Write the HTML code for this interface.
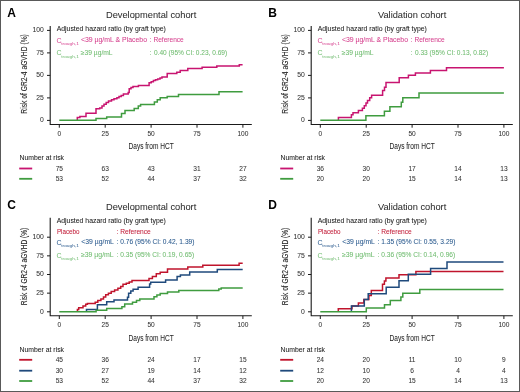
<!DOCTYPE html><html><head><meta charset="utf-8"><style>html,body{margin:0;padding:0;background:#fff}svg{display:block;will-change:transform}</style></head><body>
<svg width="520" height="392" viewBox="0 0 520 392" font-family='"Liberation Sans", sans-serif'>
<rect x="0" y="0" width="520" height="392" fill="#fff"/>
<text x="7.2" y="16.8" font-size="12" fill="#000" font-weight="bold">A</text>
<text x="151.10" y="17.7" font-size="9.6" fill="#2e2e2e" stroke="#2e2e2e" stroke-width="0.05" text-anchor="middle" textLength="90.3" lengthAdjust="spacingAndGlyphs">Developmental cohort</text>
<path d="M50.2 26.0V124.5H251.8" fill="none" stroke="#1a1a1a" stroke-width="1.1"/>
<path d="M47.00 30.40H50.2" stroke="#1a1a1a" stroke-width="1"/>
<text x="43.90" y="32.30" font-size="6.8" fill="#333" stroke="#333" stroke-width="0.05" text-anchor="end">100</text>
<path d="M47.00 52.90H50.2" stroke="#1a1a1a" stroke-width="1"/>
<text x="43.90" y="54.80" font-size="6.8" fill="#333" stroke="#333" stroke-width="0.05" text-anchor="end">75</text>
<path d="M47.00 75.40H50.2" stroke="#1a1a1a" stroke-width="1"/>
<text x="43.90" y="77.30" font-size="6.8" fill="#333" stroke="#333" stroke-width="0.05" text-anchor="end">50</text>
<path d="M47.00 97.90H50.2" stroke="#1a1a1a" stroke-width="1"/>
<text x="43.90" y="99.80" font-size="6.8" fill="#333" stroke="#333" stroke-width="0.05" text-anchor="end">25</text>
<path d="M47.00 120.40H50.2" stroke="#1a1a1a" stroke-width="1"/>
<text x="43.90" y="122.30" font-size="6.8" fill="#333" stroke="#333" stroke-width="0.05" text-anchor="end">0</text>
<path d="M59.30 124.5V127.7" stroke="#1a1a1a" stroke-width="1"/>
<text x="59.30" y="136.10" font-size="6.6" fill="#333" stroke="#333" stroke-width="0.05" text-anchor="middle">0</text>
<path d="M105.20 124.5V127.7" stroke="#1a1a1a" stroke-width="1"/>
<text x="105.20" y="136.10" font-size="6.6" fill="#333" stroke="#333" stroke-width="0.05" text-anchor="middle">25</text>
<path d="M151.10 124.5V127.7" stroke="#1a1a1a" stroke-width="1"/>
<text x="151.10" y="136.10" font-size="6.6" fill="#333" stroke="#333" stroke-width="0.05" text-anchor="middle">50</text>
<path d="M197.00 124.5V127.7" stroke="#1a1a1a" stroke-width="1"/>
<text x="197.00" y="136.10" font-size="6.6" fill="#333" stroke="#333" stroke-width="0.05" text-anchor="middle">75</text>
<path d="M242.90 124.5V127.7" stroke="#1a1a1a" stroke-width="1"/>
<text x="242.90" y="136.10" font-size="6.6" fill="#333" stroke="#333" stroke-width="0.05" text-anchor="middle">100</text>
<text x="151.10" y="149.10" font-size="9.4" fill="#262626" stroke="#262626" stroke-width="0.05" text-anchor="middle" textLength="45.2" lengthAdjust="spacingAndGlyphs">Days from HCT</text>
<text transform="translate(27.0 73.9) rotate(-90)" font-size="9" fill="#2a2a2a" stroke="#2a2a2a" stroke-width="0.12" text-anchor="middle" textLength="79.5" lengthAdjust="spacingAndGlyphs">Risk of GR2-4 aGVHD (%)</text>
<text x="268.2" y="16.8" font-size="12" fill="#000" font-weight="bold">B</text>
<text x="412.10" y="17.7" font-size="9.6" fill="#2e2e2e" stroke="#2e2e2e" stroke-width="0.05" text-anchor="middle" textLength="68.3" lengthAdjust="spacingAndGlyphs">Validation cohort</text>
<path d="M311.2 26.0V124.5H512.8" fill="none" stroke="#1a1a1a" stroke-width="1.1"/>
<path d="M308.00 30.40H311.2" stroke="#1a1a1a" stroke-width="1"/>
<text x="304.90" y="32.30" font-size="6.8" fill="#333" stroke="#333" stroke-width="0.05" text-anchor="end">100</text>
<path d="M308.00 52.90H311.2" stroke="#1a1a1a" stroke-width="1"/>
<text x="304.90" y="54.80" font-size="6.8" fill="#333" stroke="#333" stroke-width="0.05" text-anchor="end">75</text>
<path d="M308.00 75.40H311.2" stroke="#1a1a1a" stroke-width="1"/>
<text x="304.90" y="77.30" font-size="6.8" fill="#333" stroke="#333" stroke-width="0.05" text-anchor="end">50</text>
<path d="M308.00 97.90H311.2" stroke="#1a1a1a" stroke-width="1"/>
<text x="304.90" y="99.80" font-size="6.8" fill="#333" stroke="#333" stroke-width="0.05" text-anchor="end">25</text>
<path d="M308.00 120.40H311.2" stroke="#1a1a1a" stroke-width="1"/>
<text x="304.90" y="122.30" font-size="6.8" fill="#333" stroke="#333" stroke-width="0.05" text-anchor="end">0</text>
<path d="M320.30 124.5V127.7" stroke="#1a1a1a" stroke-width="1"/>
<text x="320.30" y="136.10" font-size="6.6" fill="#333" stroke="#333" stroke-width="0.05" text-anchor="middle">0</text>
<path d="M366.20 124.5V127.7" stroke="#1a1a1a" stroke-width="1"/>
<text x="366.20" y="136.10" font-size="6.6" fill="#333" stroke="#333" stroke-width="0.05" text-anchor="middle">25</text>
<path d="M412.10 124.5V127.7" stroke="#1a1a1a" stroke-width="1"/>
<text x="412.10" y="136.10" font-size="6.6" fill="#333" stroke="#333" stroke-width="0.05" text-anchor="middle">50</text>
<path d="M458.00 124.5V127.7" stroke="#1a1a1a" stroke-width="1"/>
<text x="458.00" y="136.10" font-size="6.6" fill="#333" stroke="#333" stroke-width="0.05" text-anchor="middle">75</text>
<path d="M503.90 124.5V127.7" stroke="#1a1a1a" stroke-width="1"/>
<text x="503.90" y="136.10" font-size="6.6" fill="#333" stroke="#333" stroke-width="0.05" text-anchor="middle">100</text>
<text x="412.10" y="149.10" font-size="9.4" fill="#262626" stroke="#262626" stroke-width="0.05" text-anchor="middle" textLength="45.2" lengthAdjust="spacingAndGlyphs">Days from HCT</text>
<text transform="translate(288.0 73.9) rotate(-90)" font-size="9" fill="#2a2a2a" stroke="#2a2a2a" stroke-width="0.12" text-anchor="middle" textLength="79.5" lengthAdjust="spacingAndGlyphs">Risk of GR2-4 aGVHD (%)</text>
<text x="7.2" y="209.0" font-size="12" fill="#000" font-weight="bold">C</text>
<text x="151.10" y="209.7" font-size="9.6" fill="#2e2e2e" stroke="#2e2e2e" stroke-width="0.05" text-anchor="middle" textLength="90.3" lengthAdjust="spacingAndGlyphs">Developmental cohort</text>
<path d="M50.2 217.7V315.8H251.8" fill="none" stroke="#1a1a1a" stroke-width="1.1"/>
<path d="M47.00 237.20H50.2" stroke="#1a1a1a" stroke-width="1"/>
<text x="43.90" y="239.10" font-size="6.8" fill="#333" stroke="#333" stroke-width="0.05" text-anchor="end">100</text>
<path d="M47.00 255.85H50.2" stroke="#1a1a1a" stroke-width="1"/>
<text x="43.90" y="257.75" font-size="6.8" fill="#333" stroke="#333" stroke-width="0.05" text-anchor="end">75</text>
<path d="M47.00 274.50H50.2" stroke="#1a1a1a" stroke-width="1"/>
<text x="43.90" y="276.40" font-size="6.8" fill="#333" stroke="#333" stroke-width="0.05" text-anchor="end">50</text>
<path d="M47.00 293.15H50.2" stroke="#1a1a1a" stroke-width="1"/>
<text x="43.90" y="295.05" font-size="6.8" fill="#333" stroke="#333" stroke-width="0.05" text-anchor="end">25</text>
<path d="M47.00 311.80H50.2" stroke="#1a1a1a" stroke-width="1"/>
<text x="43.90" y="313.70" font-size="6.8" fill="#333" stroke="#333" stroke-width="0.05" text-anchor="end">0</text>
<path d="M59.30 315.8V319.0" stroke="#1a1a1a" stroke-width="1"/>
<text x="59.30" y="327.40" font-size="6.6" fill="#333" stroke="#333" stroke-width="0.05" text-anchor="middle">0</text>
<path d="M105.20 315.8V319.0" stroke="#1a1a1a" stroke-width="1"/>
<text x="105.20" y="327.40" font-size="6.6" fill="#333" stroke="#333" stroke-width="0.05" text-anchor="middle">25</text>
<path d="M151.10 315.8V319.0" stroke="#1a1a1a" stroke-width="1"/>
<text x="151.10" y="327.40" font-size="6.6" fill="#333" stroke="#333" stroke-width="0.05" text-anchor="middle">50</text>
<path d="M197.00 315.8V319.0" stroke="#1a1a1a" stroke-width="1"/>
<text x="197.00" y="327.40" font-size="6.6" fill="#333" stroke="#333" stroke-width="0.05" text-anchor="middle">75</text>
<path d="M242.90 315.8V319.0" stroke="#1a1a1a" stroke-width="1"/>
<text x="242.90" y="327.40" font-size="6.6" fill="#333" stroke="#333" stroke-width="0.05" text-anchor="middle">100</text>
<text x="151.10" y="340.80" font-size="9.4" fill="#262626" stroke="#262626" stroke-width="0.05" text-anchor="middle" textLength="45.2" lengthAdjust="spacingAndGlyphs">Days from HCT</text>
<text transform="translate(27.0 266.6) rotate(-90)" font-size="9" fill="#2a2a2a" stroke="#2a2a2a" stroke-width="0.12" text-anchor="middle" textLength="77.5" lengthAdjust="spacingAndGlyphs">Risk of GR2-4 aGVHD (%)</text>
<text x="268.2" y="209.0" font-size="12" fill="#000" font-weight="bold">D</text>
<text x="412.10" y="209.7" font-size="9.6" fill="#2e2e2e" stroke="#2e2e2e" stroke-width="0.05" text-anchor="middle" textLength="68.3" lengthAdjust="spacingAndGlyphs">Validation cohort</text>
<path d="M311.2 217.7V315.8H512.8" fill="none" stroke="#1a1a1a" stroke-width="1.1"/>
<path d="M308.00 237.20H311.2" stroke="#1a1a1a" stroke-width="1"/>
<text x="304.90" y="239.10" font-size="6.8" fill="#333" stroke="#333" stroke-width="0.05" text-anchor="end">100</text>
<path d="M308.00 255.85H311.2" stroke="#1a1a1a" stroke-width="1"/>
<text x="304.90" y="257.75" font-size="6.8" fill="#333" stroke="#333" stroke-width="0.05" text-anchor="end">75</text>
<path d="M308.00 274.50H311.2" stroke="#1a1a1a" stroke-width="1"/>
<text x="304.90" y="276.40" font-size="6.8" fill="#333" stroke="#333" stroke-width="0.05" text-anchor="end">50</text>
<path d="M308.00 293.15H311.2" stroke="#1a1a1a" stroke-width="1"/>
<text x="304.90" y="295.05" font-size="6.8" fill="#333" stroke="#333" stroke-width="0.05" text-anchor="end">25</text>
<path d="M308.00 311.80H311.2" stroke="#1a1a1a" stroke-width="1"/>
<text x="304.90" y="313.70" font-size="6.8" fill="#333" stroke="#333" stroke-width="0.05" text-anchor="end">0</text>
<path d="M320.30 315.8V319.0" stroke="#1a1a1a" stroke-width="1"/>
<text x="320.30" y="327.40" font-size="6.6" fill="#333" stroke="#333" stroke-width="0.05" text-anchor="middle">0</text>
<path d="M366.20 315.8V319.0" stroke="#1a1a1a" stroke-width="1"/>
<text x="366.20" y="327.40" font-size="6.6" fill="#333" stroke="#333" stroke-width="0.05" text-anchor="middle">25</text>
<path d="M412.10 315.8V319.0" stroke="#1a1a1a" stroke-width="1"/>
<text x="412.10" y="327.40" font-size="6.6" fill="#333" stroke="#333" stroke-width="0.05" text-anchor="middle">50</text>
<path d="M458.00 315.8V319.0" stroke="#1a1a1a" stroke-width="1"/>
<text x="458.00" y="327.40" font-size="6.6" fill="#333" stroke="#333" stroke-width="0.05" text-anchor="middle">75</text>
<path d="M503.90 315.8V319.0" stroke="#1a1a1a" stroke-width="1"/>
<text x="503.90" y="327.40" font-size="6.6" fill="#333" stroke="#333" stroke-width="0.05" text-anchor="middle">100</text>
<text x="412.10" y="340.80" font-size="9.4" fill="#262626" stroke="#262626" stroke-width="0.05" text-anchor="middle" textLength="45.2" lengthAdjust="spacingAndGlyphs">Days from HCT</text>
<text transform="translate(288.0 266.6) rotate(-90)" font-size="9" fill="#2a2a2a" stroke="#2a2a2a" stroke-width="0.12" text-anchor="middle" textLength="77.5" lengthAdjust="spacingAndGlyphs">Risk of GR2-4 aGVHD (%)</text>
<text x="56.7" y="31.4" font-size="6.6" fill="#1a1a1a" stroke="#1a1a1a" stroke-width="0.05" textLength="109.2" lengthAdjust="spacingAndGlyphs">Adjusted hazard ratio (by graft type)</text>
<text x="56.60" y="42.60" font-size="7.0" fill="#d6428f">C</text>
<text x="61.20" y="45.10" font-size="4.2" fill="#d6428f" textLength="17.9" lengthAdjust="spacingAndGlyphs">trough,1</text>
<text x="80.9" y="42.1" font-size="6.6" fill="#d6428f" stroke="#d6428f" stroke-width="0.05" textLength="66.1" lengthAdjust="spacingAndGlyphs">&lt;39 µg/mL &amp; Placebo</text>
<text x="149.6" y="42.1" font-size="6.6" fill="#d6428f" stroke="#d6428f" stroke-width="0.05">:</text>
<text x="153.4" y="42.1" font-size="6.6" fill="#d6428f" stroke="#d6428f" stroke-width="0.05" textLength="30.4" lengthAdjust="spacingAndGlyphs">Reference</text>
<text x="56.60" y="55.10" font-size="7.0" fill="#70bc70">C</text>
<text x="61.20" y="57.60" font-size="4.2" fill="#70bc70" textLength="17.9" lengthAdjust="spacingAndGlyphs">trough,1</text>
<text x="80.8" y="54.6" font-size="6.6" fill="#70bc70" stroke="#70bc70" stroke-width="0.05" textLength="31.8" lengthAdjust="spacingAndGlyphs">≥39 µg/mL</text>
<text x="149.6" y="54.6" font-size="6.6" fill="#70bc70" stroke="#70bc70" stroke-width="0.05">:</text>
<text x="154.0" y="54.6" font-size="6.6" fill="#70bc70" stroke="#70bc70" stroke-width="0.05" textLength="73.2" lengthAdjust="spacingAndGlyphs">0.40 (95% CI: 0.23, 0.69)</text>
<text x="317.7" y="31.4" font-size="6.6" fill="#1a1a1a" stroke="#1a1a1a" stroke-width="0.05" textLength="109.2" lengthAdjust="spacingAndGlyphs">Adjusted hazard ratio (by graft type)</text>
<text x="317.60" y="42.60" font-size="7.0" fill="#d6428f">C</text>
<text x="322.20" y="45.10" font-size="4.2" fill="#d6428f" textLength="17.9" lengthAdjust="spacingAndGlyphs">trough,1</text>
<text x="341.9" y="42.1" font-size="6.6" fill="#d6428f" stroke="#d6428f" stroke-width="0.05" textLength="66.1" lengthAdjust="spacingAndGlyphs">&lt;39 µg/mL &amp; Placebo</text>
<text x="410.6" y="42.1" font-size="6.6" fill="#d6428f" stroke="#d6428f" stroke-width="0.05">:</text>
<text x="414.4" y="42.1" font-size="6.6" fill="#d6428f" stroke="#d6428f" stroke-width="0.05" textLength="30.4" lengthAdjust="spacingAndGlyphs">Reference</text>
<text x="317.60" y="55.10" font-size="7.0" fill="#70bc70">C</text>
<text x="322.20" y="57.60" font-size="4.2" fill="#70bc70" textLength="17.9" lengthAdjust="spacingAndGlyphs">trough,1</text>
<text x="341.8" y="54.6" font-size="6.6" fill="#70bc70" stroke="#70bc70" stroke-width="0.05" textLength="31.8" lengthAdjust="spacingAndGlyphs">≥39 µg/mL</text>
<text x="410.6" y="54.6" font-size="6.6" fill="#70bc70" stroke="#70bc70" stroke-width="0.05">:</text>
<text x="415.0" y="54.6" font-size="6.6" fill="#70bc70" stroke="#70bc70" stroke-width="0.05" textLength="73.2" lengthAdjust="spacingAndGlyphs">0.33 (95% CI: 0.13, 0.82)</text>
<text x="56.7" y="223.4" font-size="6.6" fill="#1a1a1a" stroke="#1a1a1a" stroke-width="0.05" textLength="109.2" lengthAdjust="spacingAndGlyphs">Adjusted hazard ratio (by graft type)</text>
<text x="56.9" y="233.6" font-size="6.6" fill="#c21c38" stroke="#c21c38" stroke-width="0.05" textLength="22.6" lengthAdjust="spacingAndGlyphs">Placebo</text>
<text x="116.6" y="233.6" font-size="6.6" fill="#c21c38" stroke="#c21c38" stroke-width="0.05">:</text>
<text x="120.2" y="233.6" font-size="6.6" fill="#c21c38" stroke="#c21c38" stroke-width="0.05" textLength="30.6" lengthAdjust="spacingAndGlyphs">Reference</text>
<text x="56.60" y="244.90" font-size="7.0" fill="#2a5a8e">C</text>
<text x="61.20" y="247.40" font-size="4.2" fill="#2a5a8e" textLength="17.9" lengthAdjust="spacingAndGlyphs">trough,1</text>
<text x="81.3" y="244.4" font-size="6.6" fill="#2a5a8e" stroke="#2a5a8e" stroke-width="0.05" textLength="32.6" lengthAdjust="spacingAndGlyphs">&lt;39 µg/mL</text>
<text x="116.6" y="244.4" font-size="6.6" fill="#2a5a8e" stroke="#2a5a8e" stroke-width="0.05">:</text>
<text x="120.3" y="244.4" font-size="6.6" fill="#2a5a8e" stroke="#2a5a8e" stroke-width="0.05" textLength="74.2" lengthAdjust="spacingAndGlyphs">0.76 (95% CI: 0.42, 1.39)</text>
<text x="56.60" y="257.90" font-size="7.0" fill="#70bc70">C</text>
<text x="61.20" y="260.40" font-size="4.2" fill="#70bc70" textLength="17.9" lengthAdjust="spacingAndGlyphs">trough,1</text>
<text x="80.9" y="257.4" font-size="6.6" fill="#70bc70" stroke="#70bc70" stroke-width="0.05" textLength="32.8" lengthAdjust="spacingAndGlyphs">≥39 µg/mL</text>
<text x="116.6" y="257.4" font-size="6.6" fill="#70bc70" stroke="#70bc70" stroke-width="0.05">:</text>
<text x="120.3" y="257.4" font-size="6.6" fill="#70bc70" stroke="#70bc70" stroke-width="0.05" textLength="73.9" lengthAdjust="spacingAndGlyphs">0.35 (95% CI: 0.19, 0.65)</text>
<text x="317.7" y="223.4" font-size="6.6" fill="#1a1a1a" stroke="#1a1a1a" stroke-width="0.05" textLength="109.2" lengthAdjust="spacingAndGlyphs">Adjusted hazard ratio (by graft type)</text>
<text x="317.9" y="233.6" font-size="6.6" fill="#c21c38" stroke="#c21c38" stroke-width="0.05" textLength="22.6" lengthAdjust="spacingAndGlyphs">Placebo</text>
<text x="377.6" y="233.6" font-size="6.6" fill="#c21c38" stroke="#c21c38" stroke-width="0.05">:</text>
<text x="381.2" y="233.6" font-size="6.6" fill="#c21c38" stroke="#c21c38" stroke-width="0.05" textLength="30.6" lengthAdjust="spacingAndGlyphs">Reference</text>
<text x="317.60" y="244.90" font-size="7.0" fill="#2a5a8e">C</text>
<text x="322.20" y="247.40" font-size="4.2" fill="#2a5a8e" textLength="17.9" lengthAdjust="spacingAndGlyphs">trough,1</text>
<text x="342.3" y="244.4" font-size="6.6" fill="#2a5a8e" stroke="#2a5a8e" stroke-width="0.05" textLength="32.6" lengthAdjust="spacingAndGlyphs">&lt;39 µg/mL</text>
<text x="377.6" y="244.4" font-size="6.6" fill="#2a5a8e" stroke="#2a5a8e" stroke-width="0.05">:</text>
<text x="381.3" y="244.4" font-size="6.6" fill="#2a5a8e" stroke="#2a5a8e" stroke-width="0.05" textLength="74.2" lengthAdjust="spacingAndGlyphs">1.35 (95% CI: 0.55, 3.29)</text>
<text x="317.60" y="257.90" font-size="7.0" fill="#70bc70">C</text>
<text x="322.20" y="260.40" font-size="4.2" fill="#70bc70" textLength="17.9" lengthAdjust="spacingAndGlyphs">trough,1</text>
<text x="341.9" y="257.4" font-size="6.6" fill="#70bc70" stroke="#70bc70" stroke-width="0.05" textLength="32.8" lengthAdjust="spacingAndGlyphs">≥39 µg/mL</text>
<text x="377.6" y="257.4" font-size="6.6" fill="#70bc70" stroke="#70bc70" stroke-width="0.05">:</text>
<text x="381.3" y="257.4" font-size="6.6" fill="#70bc70" stroke="#70bc70" stroke-width="0.05" textLength="73.9" lengthAdjust="spacingAndGlyphs">0.36 (95% CI: 0.14, 0.96)</text>
<text x="19.6" y="159.8" font-size="6.6" fill="#1a1a1a" stroke="#1a1a1a" stroke-width="0.05" textLength="44.4" lengthAdjust="spacingAndGlyphs">Number at risk</text>
<path d="M19.2 168.5H32.2" stroke="#c81470" stroke-width="1.8"/>
<text x="59.30" y="170.90" font-size="6.6" fill="#333" stroke="#333" stroke-width="0.05" text-anchor="middle">75</text>
<text x="105.20" y="170.90" font-size="6.6" fill="#333" stroke="#333" stroke-width="0.05" text-anchor="middle">63</text>
<text x="151.10" y="170.90" font-size="6.6" fill="#333" stroke="#333" stroke-width="0.05" text-anchor="middle">43</text>
<text x="197.00" y="170.90" font-size="6.6" fill="#333" stroke="#333" stroke-width="0.05" text-anchor="middle">31</text>
<text x="242.90" y="170.90" font-size="6.6" fill="#333" stroke="#333" stroke-width="0.05" text-anchor="middle">27</text>
<path d="M19.2 178.8H32.2" stroke="#3f9c3f" stroke-width="1.8"/>
<text x="59.30" y="181.20" font-size="6.6" fill="#333" stroke="#333" stroke-width="0.05" text-anchor="middle">53</text>
<text x="105.20" y="181.20" font-size="6.6" fill="#333" stroke="#333" stroke-width="0.05" text-anchor="middle">52</text>
<text x="151.10" y="181.20" font-size="6.6" fill="#333" stroke="#333" stroke-width="0.05" text-anchor="middle">44</text>
<text x="197.00" y="181.20" font-size="6.6" fill="#333" stroke="#333" stroke-width="0.05" text-anchor="middle">37</text>
<text x="242.90" y="181.20" font-size="6.6" fill="#333" stroke="#333" stroke-width="0.05" text-anchor="middle">32</text>
<text x="280.6" y="159.8" font-size="6.6" fill="#1a1a1a" stroke="#1a1a1a" stroke-width="0.05" textLength="44.4" lengthAdjust="spacingAndGlyphs">Number at risk</text>
<path d="M280.2 168.5H293.2" stroke="#c81470" stroke-width="1.8"/>
<text x="320.30" y="170.90" font-size="6.6" fill="#333" stroke="#333" stroke-width="0.05" text-anchor="middle">36</text>
<text x="366.20" y="170.90" font-size="6.6" fill="#333" stroke="#333" stroke-width="0.05" text-anchor="middle">30</text>
<text x="412.10" y="170.90" font-size="6.6" fill="#333" stroke="#333" stroke-width="0.05" text-anchor="middle">17</text>
<text x="458.00" y="170.90" font-size="6.6" fill="#333" stroke="#333" stroke-width="0.05" text-anchor="middle">14</text>
<text x="503.90" y="170.90" font-size="6.6" fill="#333" stroke="#333" stroke-width="0.05" text-anchor="middle">13</text>
<path d="M280.2 178.8H293.2" stroke="#3f9c3f" stroke-width="1.8"/>
<text x="320.30" y="181.20" font-size="6.6" fill="#333" stroke="#333" stroke-width="0.05" text-anchor="middle">20</text>
<text x="366.20" y="181.20" font-size="6.6" fill="#333" stroke="#333" stroke-width="0.05" text-anchor="middle">20</text>
<text x="412.10" y="181.20" font-size="6.6" fill="#333" stroke="#333" stroke-width="0.05" text-anchor="middle">15</text>
<text x="458.00" y="181.20" font-size="6.6" fill="#333" stroke="#333" stroke-width="0.05" text-anchor="middle">14</text>
<text x="503.90" y="181.20" font-size="6.6" fill="#333" stroke="#333" stroke-width="0.05" text-anchor="middle">13</text>
<text x="19.6" y="351.8" font-size="6.6" fill="#1a1a1a" stroke="#1a1a1a" stroke-width="0.05" textLength="44.4" lengthAdjust="spacingAndGlyphs">Number at risk</text>
<path d="M19.2 359.8H32.2" stroke="#c0142c" stroke-width="1.8"/>
<text x="59.30" y="362.20" font-size="6.6" fill="#333" stroke="#333" stroke-width="0.05" text-anchor="middle">45</text>
<text x="105.20" y="362.20" font-size="6.6" fill="#333" stroke="#333" stroke-width="0.05" text-anchor="middle">36</text>
<text x="151.10" y="362.20" font-size="6.6" fill="#333" stroke="#333" stroke-width="0.05" text-anchor="middle">24</text>
<text x="197.00" y="362.20" font-size="6.6" fill="#333" stroke="#333" stroke-width="0.05" text-anchor="middle">17</text>
<text x="242.90" y="362.20" font-size="6.6" fill="#333" stroke="#333" stroke-width="0.05" text-anchor="middle">15</text>
<path d="M19.2 370.7H32.2" stroke="#1f4a7c" stroke-width="1.8"/>
<text x="59.30" y="373.10" font-size="6.6" fill="#333" stroke="#333" stroke-width="0.05" text-anchor="middle">30</text>
<text x="105.20" y="373.10" font-size="6.6" fill="#333" stroke="#333" stroke-width="0.05" text-anchor="middle">27</text>
<text x="151.10" y="373.10" font-size="6.6" fill="#333" stroke="#333" stroke-width="0.05" text-anchor="middle">19</text>
<text x="197.00" y="373.10" font-size="6.6" fill="#333" stroke="#333" stroke-width="0.05" text-anchor="middle">14</text>
<text x="242.90" y="373.10" font-size="6.6" fill="#333" stroke="#333" stroke-width="0.05" text-anchor="middle">12</text>
<path d="M19.2 381.0H32.2" stroke="#3f9c3f" stroke-width="1.8"/>
<text x="59.30" y="383.40" font-size="6.6" fill="#333" stroke="#333" stroke-width="0.05" text-anchor="middle">53</text>
<text x="105.20" y="383.40" font-size="6.6" fill="#333" stroke="#333" stroke-width="0.05" text-anchor="middle">52</text>
<text x="151.10" y="383.40" font-size="6.6" fill="#333" stroke="#333" stroke-width="0.05" text-anchor="middle">44</text>
<text x="197.00" y="383.40" font-size="6.6" fill="#333" stroke="#333" stroke-width="0.05" text-anchor="middle">37</text>
<text x="242.90" y="383.40" font-size="6.6" fill="#333" stroke="#333" stroke-width="0.05" text-anchor="middle">32</text>
<text x="280.6" y="351.8" font-size="6.6" fill="#1a1a1a" stroke="#1a1a1a" stroke-width="0.05" textLength="44.4" lengthAdjust="spacingAndGlyphs">Number at risk</text>
<path d="M280.2 359.8H293.2" stroke="#c0142c" stroke-width="1.8"/>
<text x="320.30" y="362.20" font-size="6.6" fill="#333" stroke="#333" stroke-width="0.05" text-anchor="middle">24</text>
<text x="366.20" y="362.20" font-size="6.6" fill="#333" stroke="#333" stroke-width="0.05" text-anchor="middle">20</text>
<text x="412.10" y="362.20" font-size="6.6" fill="#333" stroke="#333" stroke-width="0.05" text-anchor="middle">11</text>
<text x="458.00" y="362.20" font-size="6.6" fill="#333" stroke="#333" stroke-width="0.05" text-anchor="middle">10</text>
<text x="503.90" y="362.20" font-size="6.6" fill="#333" stroke="#333" stroke-width="0.05" text-anchor="middle">9</text>
<path d="M280.2 370.7H293.2" stroke="#1f4a7c" stroke-width="1.8"/>
<text x="320.30" y="373.10" font-size="6.6" fill="#333" stroke="#333" stroke-width="0.05" text-anchor="middle">12</text>
<text x="366.20" y="373.10" font-size="6.6" fill="#333" stroke="#333" stroke-width="0.05" text-anchor="middle">10</text>
<text x="412.10" y="373.10" font-size="6.6" fill="#333" stroke="#333" stroke-width="0.05" text-anchor="middle">6</text>
<text x="458.00" y="373.10" font-size="6.6" fill="#333" stroke="#333" stroke-width="0.05" text-anchor="middle">4</text>
<text x="503.90" y="373.10" font-size="6.6" fill="#333" stroke="#333" stroke-width="0.05" text-anchor="middle">4</text>
<path d="M280.2 381.0H293.2" stroke="#3f9c3f" stroke-width="1.8"/>
<text x="320.30" y="383.40" font-size="6.6" fill="#333" stroke="#333" stroke-width="0.05" text-anchor="middle">20</text>
<text x="366.20" y="383.40" font-size="6.6" fill="#333" stroke="#333" stroke-width="0.05" text-anchor="middle">20</text>
<text x="412.10" y="383.40" font-size="6.6" fill="#333" stroke="#333" stroke-width="0.05" text-anchor="middle">15</text>
<text x="458.00" y="383.40" font-size="6.6" fill="#333" stroke="#333" stroke-width="0.05" text-anchor="middle">14</text>
<text x="503.90" y="383.40" font-size="6.6" fill="#333" stroke="#333" stroke-width="0.05" text-anchor="middle">13</text>
<path d="M77.3 120.4V117.5H79.9V116.4H86V113.2H96V108.7H99.7V108.1H102V106H104V104.3H106.2V102.5H108.5V101.1H111.5V99.8H114V98.8H116.9V97.7H119V96.5H121.2V95.4H123.4V94H128.2V92.4H129.2V88.7H131V87.5H133V86.5H138.4V85.4H149.1V82.8H151.2V81.8H153.4V80.6H155.5V79.8H157.7V79H160V78H162V77.1H167.2V73.4H176.8V72.3H180.2V70.6H187.8V68.4H202.1V67.2H216.8V66.1H239.3V64.8H242.6" fill="none" stroke="#c81470" stroke-width="1.5" stroke-linejoin="miter" stroke-linecap="butt"/>
<path d="M59.3 120.3H96V118.6H106.7V117H121.5V113.6H125V110.5H134.2V108.5H138.3V106.1H140.6V104.4H154.4V102.1H157.3V99.8H160.2V97.8H167.2V96.4H178.5V94.4H219V91.7H242.6" fill="none" stroke="#3f9c3f" stroke-width="1.5" stroke-linejoin="miter" stroke-linecap="butt"/>
<path d="M338.4 120.4V117.5H351.4V114.8H353V112.7H358.4V110.5H362.4V108.3H364.3V105.7H366V103H367.5V100.4H369.7V97.7H371.6V95.2H382.6V90.5H384.5V87.3H386V82.5H399.2V77.7H408.4V75.2H415.4V72.9H430.4V70.4H446.5V67.7H503.9" fill="none" stroke="#c81470" stroke-width="1.5" stroke-linejoin="miter" stroke-linecap="butt"/>
<path d="M320.3 120.3H365.9V115.8H384.4V111.3H389.9V106.7H401.3V102.2H402.8V97.7H419V93.1H503.9" fill="none" stroke="#3f9c3f" stroke-width="1.5" stroke-linejoin="miter" stroke-linecap="butt"/>
<path d="M77.4 311.8V309.6H78.7V307.8H83V306.1H85.7V304.3H87.4V303.5H95.2V302.2H97.8V300.4H100.9V299.1H103.5V297H105.7V294.8H108.4V293.3H111.2V291.6H114.6V289.9H117.9V288.2H120.7V286.5H123V284.3H126.3V283.2H129.2V282H132V280.4H149V278.6H152.4V276.6H156.3V273.8H160.2V272.3H167.5V269H187.8V266.9H202.8V265.2H239.1V263.3H242.7" fill="none" stroke="#c0142c" stroke-width="1.5" stroke-linejoin="miter" stroke-linecap="butt"/>
<path d="M86.5 311.8V309.6H97.4V304.8H106.7V301.7H114V300H127.5V297.2H128.6V293.3H130.8V291H133.1V289.3H138.1V287.3H149.6V283.9H150.7V282.2H165.6V280H177.1V276.6H180.4V275H189.7V271.9H217.3V269.4H242.7" fill="none" stroke="#1f4a7c" stroke-width="1.5" stroke-linejoin="miter" stroke-linecap="butt"/>
<path d="M59.3 311.7H96.1V310.3H106.7V308.5H121.9V306.8H124.7V304H132.5V302.3H136.5V300.6H139.8V299H154V296.8H156.9V295.1H160.2V293.5H167.5V292.1H178.8V290.6H218.8V289H221.2V287.9H242.7" fill="none" stroke="#3f9c3f" stroke-width="1.5" stroke-linejoin="miter" stroke-linecap="butt"/>
<path d="M338.3 311.8V308.7H352V306H358.4V302.9H363.8V299.6H368.9V295.6H371.3V290.5H382.5V284.3H384.4V281H385.9V278H399V274.8H415.9V271.4H503.5" fill="none" stroke="#c0142c" stroke-width="1.5" stroke-linejoin="miter" stroke-linecap="butt"/>
<path d="M351.4 311.8V306H364.3V299.6H368.2V293.7H386.2V287.2H399V280.8H408.3V274.3H430.6V268.4H447V262.1H503.5" fill="none" stroke="#1f4a7c" stroke-width="1.5" stroke-linejoin="miter" stroke-linecap="butt"/>
<path d="M320.3 311.7H366.3V308.1H384.5V304.7H390.3V300.4H400.9V297H402.8V293.2H419.8V289.4H503.5" fill="none" stroke="#3f9c3f" stroke-width="1.5" stroke-linejoin="miter" stroke-linecap="butt"/>
<rect x="0.5" y="0.5" width="519" height="391" fill="none" stroke="#595959" stroke-width="1"/>
</svg></body></html>
